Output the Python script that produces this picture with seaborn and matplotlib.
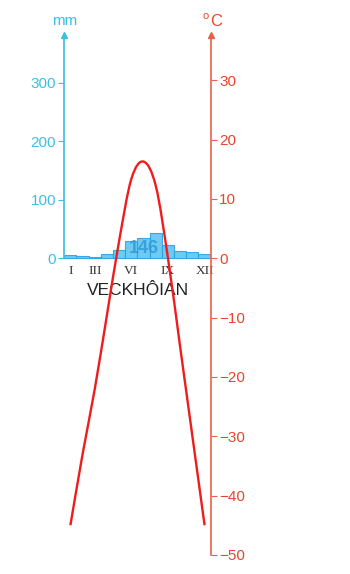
import numpy as np
import pandas as pd
import matplotlib
matplotlib.use("Agg")
import matplotlib.pyplot as plt
import seaborn as sns
from matplotlib.path import Path
from matplotlib.patches import PathPatch

# Climate data: Verkhoyansk station
months = ["I", "II", "III", "IV", "V", "VI", "VII", "VIII", "IX", "X", "XI", "XII"]
precip_mm = [6, 4, 3, 7, 14, 29, 35, 44, 23, 12, 10, 7]
temp_c = [-45, -33, -22, -9.5, 3, 13.4, 16.3, 12.2, 0, -15, -30, -45]
annual_total = "146"
station = "VECKHÔIAN"
mm_ticks = [0, 100, 200, 300]
temp_ticks = [30, 20, 10, 0, -10, -20, -30, -40, -50]
shown_months = ["I", "III", "VI", "IX", "XII"]

CYAN = "#3cc0e2"
RED_AXIS = "#e4624c"
RED_TEXT = "#e8452c"
RED_LINE = "#f01c1c"

sns.set_style("white")
plt.rcParams["font.family"] = ["Liberation Sans", "DejaVu Sans"]

fig = plt.figure(figsize=(3.5, 5.74), dpi=100)
ax = fig.add_axes([0.1837, 0.0291, 0.4183, 0.9099])
ax.set_facecolor("none")

df = pd.DataFrame({"month": months, "precip": precip_mm})
sns.barplot(data=df, x="month", y="precip", order=months, width=1.0,
            color="#5ec4f2", edgecolor="#2ba3df", linewidth=0.8,
            saturation=1, alpha=0.9, ax=ax)

ax.set_xlim(-0.5, 11.5)
ax.set_ylim(-510.8, 381.5)
ax.set_xlabel("")
ax.set_ylabel("")
for side in ("top", "right", "bottom"):
    ax.spines[side].set_visible(False)
ax.spines["left"].set_bounds(0, 381.5)
ax.spines["left"].set_color(CYAN)
ax.spines["left"].set_linewidth(1.2)
ax.set_yticks(mm_ticks)
ax.tick_params(axis="y", direction="out", length=4, width=0.8, color=CYAN,
               labelcolor=CYAN, labelsize=11, pad=2, left=True)
ax.set_xticks([])

# month labels under the bars
for m in shown_months:
    ax.annotate(m, xy=(months.index(m), 0), xytext=(0, -7),
                textcoords="offset pixels", ha="center", va="top",
                fontsize=9.5, family=["Liberation Serif"], color="#333333")

ax.annotate(station, xy=(5.5, 0), xytext=(0, -32), textcoords="offset pixels",
            ha="center", va="center", fontsize=12.5, color="#222222")

ax.text(6, 17, annual_total, ha="center", va="center", fontsize=13,
        fontweight="bold", color="#2d9bd6", alpha=0.85)

ax.plot([0], [1], marker="^", markersize=5, color=CYAN,
        transform=ax.transAxes, clip_on=False)

# temperature axis
ax2 = ax.twinx()
ax2.set_ylim(-50.4, 37.64)
for side in ("top", "left", "bottom"):
    ax2.spines[side].set_visible(False)
ax2.spines["right"].set_bounds(-50, 37.64)
ax2.spines["right"].set_color(RED_AXIS)
ax2.spines["right"].set_linewidth(1.2)
ax2.set_yticks(temp_ticks)
ax2.tick_params(axis="y", direction="out", length=4, width=0.8, color=RED_AXIS,
                labelcolor=RED_TEXT, labelsize=11, pad=2, right=True)
ax2.plot([1], [1], marker="^", markersize=5, color=RED_AXIS,
         transform=ax2.transAxes, clip_on=False)

# smooth temperature curve through the monthly values
pts = np.column_stack([np.arange(len(temp_c)), temp_c]).astype(float)
verts = [tuple(pts[0])]
codes = [Path.MOVETO]
for i in range(len(pts) - 1):
    p0 = pts[i - 1] if i > 0 else pts[i]
    p1, p2 = pts[i], pts[i + 1]
    p3 = pts[i + 2] if i + 2 < len(pts) else pts[i + 1]
    c1 = p1 + (p2 - p0) / 6.0
    c2 = p2 - (p3 - p1) / 6.0
    verts += [tuple(c1), tuple(c2), tuple(p2)]
    codes += [Path.CURVE4] * 3
ax2.add_patch(PathPatch(Path(verts, codes), facecolor="none",
                        edgecolor=RED_LINE, linewidth=1.7,
                        transform=ax2.transData, clip_on=False))

fig.text(65 / 350, 1 - 21 / 574, "mm", ha="center", va="center",
         fontsize=11, color=CYAN)
fig.text(216 / 350, 1 - 21 / 574, "C", ha="center", va="center",
         fontsize=12, color=RED_TEXT)
fig.text(205.5 / 350, 1 - 16 / 574, "o", ha="center", va="center",
         fontsize=8, color=RED_TEXT)

fig.savefig("out.png", dpi=100, facecolor="white")
